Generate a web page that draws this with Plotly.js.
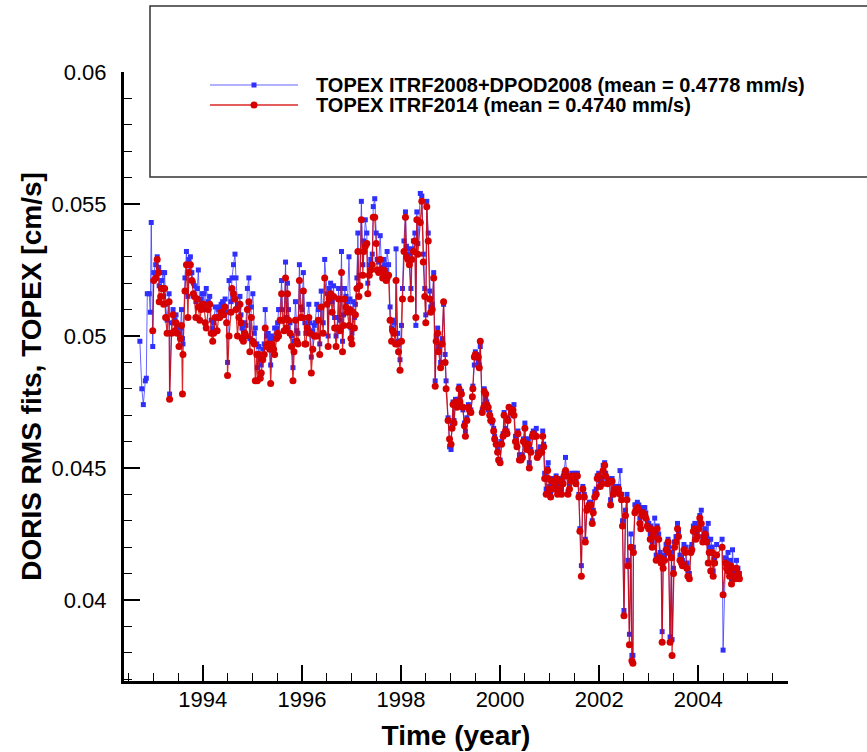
<!DOCTYPE html>
<html>
<head>
<meta charset="utf-8">
<script src="https://cdn.plot.ly/plotly-3.0.1.min.js"></script>
<style>
  html, body { margin: 0; padding: 0; background: #ffffff; }
  #chart { width: 867px; height: 752px; }
</style>
</head>
<body>
<div id="chart"></div>
<script>
// ---------------- DATA ----------------
// Epochs (decimal year) shared by both solutions
const epochYears = [
  1992.99,1993.01,1993.05,1993.08,1993.11,1993.12,1993.15,1993.17,1993.20,1993.21,
  1993.23,1993.25,1993.28,1993.32,1993.33,1993.37,1993.40,1993.44,1993.46,1993.48,
  1993.52,1993.55,1993.57,1993.59,1993.60,1993.64,1993.67,1993.70,1993.72,1993.75,
  1993.78,1993.81,1993.83,1993.86,1993.89,1993.91,1993.94,1993.97,1993.99,1994.02,
  1994.05,1994.07,1994.11,1994.14,1994.17,1994.20,1994.22,1994.25,1994.29,1994.32,
  1994.34,1994.37,1994.40,1994.42,1994.45,1994.48,1994.50,1994.53,1994.57,1994.59,
  1994.62,1994.65,1994.67,1994.70,1994.73,1994.75,1994.77,1994.79,1994.82,1994.85,
  1994.87,1994.90,1994.93,1994.95,1994.98,1995.01,1995.04,1995.06,1995.09,1995.10,
  1995.13,1995.16,1995.18,1995.21,1995.24,1995.26,1995.29,1995.32,1995.35,1995.37,
  1995.40,1995.43,1995.45,1995.49,1995.51,1995.53,1995.56,1995.59,1995.61,1995.64,
  1995.67,1995.69,1995.71,1995.73,1995.76,1995.79,1995.82,1995.84,1995.87,1995.90,
  1995.92,1995.95,1995.98,1996.00,1996.03,1996.06,1996.08,1996.11,1996.14,1996.16,
  1996.19,1996.22,1996.25,1996.27,1996.30,1996.33,1996.36,1996.39,1996.43,1996.46,
  1996.51,1996.53,1996.55,1996.58,1996.61,1996.64,1996.66,1996.69,1996.72,1996.74,
  1996.77,1996.80,1996.82,1996.84,1996.86,1996.89,1996.92,1996.95,1996.97,1996.99,
  1997.01,1997.03,1997.06,1997.08,1997.11,1997.13,1997.15,1997.17,1997.20,1997.23,
  1997.25,1997.28,1997.31,1997.33,1997.36,1997.39,1997.42,1997.44,1997.47,1997.50,
  1997.52,1997.55,1997.58,1997.60,1997.63,1997.65,1997.67,1997.70,1997.72,1997.75,
  1997.78,1997.81,1997.83,1997.86,1997.89,1997.90,1997.93,1997.95,1997.98,1998.01,
  1998.03,1998.06,1998.09,1998.11,1998.14,1998.17,1998.20,1998.22,1998.25,1998.28,
  1998.30,1998.32,1998.34,1998.39,1998.42,1998.45,1998.48,1998.50,1998.52,1998.55,
  1998.58,1998.60,1998.63,1998.66,1998.69,1998.71,1998.74,1998.76,1998.80,1998.83,
  1998.86,1998.89,1998.91,1998.95,1998.98,1999.01,1999.03,1999.05,1999.07,1999.10,
  1999.13,1999.15,1999.17,1999.19,1999.22,1999.25,1999.28,1999.30,1999.33,1999.36,
  1999.38,1999.41,1999.44,1999.45,1999.48,1999.50,1999.53,1999.56,1999.58,1999.60,
  1999.64,1999.67,1999.68,1999.71,1999.73,1999.76,1999.79,1999.81,1999.84,1999.87,
  1999.89,1999.92,1999.95,1999.97,2000.00,2000.03,2000.06,2000.08,2000.11,2000.14,
  2000.16,2000.18,2000.23,2000.26,2000.28,2000.31,2000.34,2000.36,2000.39,2000.42,
  2000.45,2000.47,2000.50,2000.51,2000.54,2000.57,2000.59,2000.62,2000.65,2000.67,
  2000.70,2000.73,2000.75,2000.78,2000.81,2000.84,2000.86,2000.88,2000.90,2000.93,
  2000.96,2000.97,2001.00,2001.02,2001.05,2001.08,2001.10,2001.13,2001.16,2001.18,
  2001.21,2001.24,2001.27,2001.29,2001.32,2001.35,2001.37,2001.40,2001.43,2001.45,
  2001.48,2001.51,2001.53,2001.56,2001.59,2001.61,2001.64,2001.67,2001.70,2001.72,
  2001.75,2001.78,2001.80,2001.83,2001.86,2001.88,2001.91,2001.94,2001.96,2001.99,
  2002.02,2002.06,2002.08,2002.11,2002.13,2002.17,2002.21,2002.23,2002.26,2002.29,
  2002.33,2002.37,2002.39,2002.42,2002.45,2002.47,2002.50,2002.53,2002.56,2002.58,
  2002.61,2002.64,2002.66,2002.68,2002.69,2002.72,2002.74,2002.77,2002.80,2002.82,
  2002.84,2002.86,2002.89,2002.92,2002.94,2002.97,2003.00,2003.03,2003.04,2003.07,
  2003.09,2003.12,2003.15,2003.17,2003.20,2003.23,2003.25,2003.27,2003.29,2003.32,
  2003.35,2003.39,2003.40,2003.43,2003.46,2003.47,2003.50,2003.52,2003.55,2003.58,
  2003.60,2003.63,2003.66,2003.68,2003.71,2003.74,2003.77,2003.79,2003.82,2003.85,
  2003.87,2003.90,2003.93,2003.95,2003.98,2004.01,2004.03,2004.06,2004.09,2004.12,
  2004.14,2004.17,2004.20,2004.22,2004.25,2004.28,2004.30,2004.33,2004.37,2004.48,
  2004.50,2004.55,2004.57,2004.60,2004.63,2004.65,2004.67,2004.69,2004.72,2004.75,
  2004.77,2004.80,2004.83
];

// TOPEX ITRF2014 RMS fits (cm/s)
const itrf2014Rms = [
  0.0502,0.0521,0.0522,0.0529,0.0524,0.0513,0.0515,0.0518,0.0518,0.0512,
  0.0518,0.0507,0.0501,0.0513,0.0476,0.0501,0.0508,0.0502,0.0505,0.0501,
  0.0496,0.0499,0.0504,0.0478,0.0493,0.0517,0.0527,0.0507,0.0524,0.0527,
  0.0521,0.0516,0.0515,0.0507,0.0514,0.0511,0.0506,0.0510,0.0512,0.0512,
  0.0505,0.0503,0.0510,0.0512,0.0501,0.0498,0.0501,0.0507,0.0502,0.0507,
  0.0507,0.0509,0.0509,0.0508,0.0511,0.0505,0.0485,0.0500,0.0509,0.0518,
  0.0516,0.0514,0.0510,0.0500,0.0507,0.0512,0.0505,0.0499,0.0498,0.0501,
  0.0500,0.0510,0.0513,0.0494,0.0507,0.0498,0.0497,0.0483,0.0493,0.0483,
  0.0493,0.0484,0.0486,0.0491,0.0493,0.0503,0.0496,0.0497,0.0495,0.0482,
  0.0497,0.0495,0.0493,0.0499,0.0501,0.0500,0.0506,0.0516,0.0506,0.0502,
  0.0522,0.0503,0.0516,0.0506,0.0501,0.0496,0.0483,0.0494,0.0506,0.0498,
  0.0497,0.0521,0.0507,0.0507,0.0517,0.0497,0.0497,0.0503,0.0507,0.0501,
  0.0486,0.0495,0.0500,0.0500,0.0500,0.0506,0.0493,0.0511,0.0501,0.0522,
  0.0512,0.0496,0.0514,0.0516,0.0509,0.0515,0.0503,0.0496,0.0503,0.0514,
  0.0502,0.0524,0.0494,0.0504,0.0514,0.0511,0.0509,0.0504,0.0510,0.0499,
  0.0497,0.0509,0.0503,0.0508,0.0518,0.0532,0.0515,0.0519,0.0544,0.0523,
  0.0532,0.0534,0.0535,0.0516,0.0523,0.0525,0.0527,0.0545,0.0545,0.0535,
  0.0525,0.0524,0.0529,0.0525,0.0522,0.0525,0.0523,0.0521,0.0522,0.0523,
  0.0506,0.0498,0.0502,0.0501,0.0497,0.0521,0.0497,0.0494,0.0487,0.0498,
  0.0514,0.0532,0.0545,0.0530,0.0529,0.0527,0.0514,0.0529,0.0532,0.0536,
  0.0507,0.0544,0.0531,0.0543,0.0551,0.0528,0.0515,0.0505,0.0549,0.0536,
  0.0514,0.0509,0.0510,0.0522,0.0481,0.0498,0.0501,0.0494,0.0488,0.0497,
  0.0513,0.0490,0.0480,0.0468,0.0461,0.0459,0.0465,0.0474,0.0467,0.0475,
  0.0473,0.0475,0.0480,0.0475,0.0478,0.0473,0.0466,0.0462,0.0468,0.0473,
  0.0472,0.0471,0.0477,0.0480,0.0492,0.0493,0.0492,0.0492,0.0488,0.0498,
  0.0471,0.0473,0.0479,0.0478,0.0474,0.0473,0.0470,0.0468,0.0468,0.0464,
  0.0461,0.0459,0.0456,0.0453,0.0452,0.0459,0.0462,0.0470,0.0464,0.0463,
  0.0468,0.0473,0.0471,0.0472,0.0470,0.0460,0.0458,0.0463,0.0453,0.0453,
  0.0454,0.0460,0.0465,0.0459,0.0457,0.0459,0.0450,0.0456,0.0462,0.0463,
  0.0462,0.0462,0.0454,0.0455,0.0456,0.0456,0.0462,0.0458,0.0446,0.0440,
  0.0449,0.0446,0.0442,0.0439,0.0445,0.0442,0.0444,0.0446,0.0440,0.0442,
  0.0445,0.0440,0.0444,0.0447,0.0449,0.0447,0.0440,0.0442,0.0445,0.0447,
  0.0446,0.0447,0.0444,0.0447,0.0439,0.0426,0.0409,0.0442,0.0439,0.0422,
  0.0434,0.0435,0.0436,0.0436,0.0429,0.0433,0.0439,0.0440,0.0446,0.0447,
  0.0443,0.0444,0.0449,0.0451,0.0447,0.0444,0.0445,0.0436,0.0445,0.0440,
  0.0442,0.0441,0.0442,0.0440,0.0438,0.0428,0.0394,0.0432,0.0438,0.0413,
  0.0383,0.0420,0.0377,0.0376,0.0418,0.0433,0.0434,0.0435,0.0434,0.0429,
  0.0427,0.0432,0.0433,0.0432,0.0431,0.0428,0.0427,0.0423,0.0427,0.0420,
  0.0424,0.0426,0.0415,0.0427,0.0423,0.0416,0.0414,0.0384,0.0412,0.0415,
  0.0419,0.0422,0.0418,0.0384,0.0416,0.0379,0.0410,0.0420,0.0422,0.0427,
  0.0424,0.0415,0.0414,0.0413,0.0419,0.0418,0.0412,0.0409,0.0408,0.0418,
  0.0419,0.0426,0.0427,0.0423,0.0424,0.0427,0.0431,0.0429,0.0422,0.0423,
  0.0425,0.0422,0.0414,0.0418,0.0411,0.0418,0.0409,0.0414,0.0417,0.0420,
  0.0402,0.0414,0.0412,0.0411,0.0409,0.0413,0.0406,0.0412,0.0409,0.0408,
  0.0412,0.0410,0.0408
];

// TOPEX ITRF2008+DPOD2008 RMS fits (cm/s), same epochs
const itrf2008Rms = [
  0.0496,0.0524,0.0527,0.0530,0.0526,0.0519,0.0518,0.0521,0.0524,0.0515,
  0.0524,0.0512,0.0506,0.0516,0.0478,0.0505,0.0510,0.0506,0.0508,0.0504,
  0.0501,0.0503,0.0510,0.0499,0.0497,0.0522,0.0532,0.0515,0.0529,0.0530,
  0.0524,0.0520,0.0519,0.0513,0.0518,0.0525,0.0511,0.0514,0.0516,0.0516,
  0.0510,0.0518,0.0513,0.0515,0.0506,0.0503,0.0505,0.0511,0.0507,0.0510,
  0.0511,0.0512,0.0513,0.0511,0.0514,0.0509,0.0490,0.0521,0.0513,0.0522,
  0.0527,0.0531,0.0522,0.0512,0.0511,0.0515,0.0508,0.0503,0.0502,0.0505,
  0.0504,0.0518,0.0522,0.0499,0.0511,0.0516,0.0501,0.0503,0.0497,0.0488,
  0.0496,0.0491,0.0489,0.0495,0.0497,0.0510,0.0500,0.0501,0.0499,0.0489,
  0.0500,0.0499,0.0503,0.0503,0.0505,0.0510,0.0510,0.0521,0.0510,0.0506,
  0.0528,0.0507,0.0520,0.0510,0.0505,0.0500,0.0488,0.0498,0.0513,0.0502,
  0.0501,0.0527,0.0511,0.0510,0.0524,0.0505,0.0501,0.0507,0.0512,0.0505,
  0.0492,0.0502,0.0504,0.0505,0.0512,0.0510,0.0497,0.0517,0.0505,0.0529,
  0.0516,0.0500,0.0518,0.0520,0.0513,0.0519,0.0507,0.0500,0.0507,0.0518,
  0.0506,0.0532,0.0498,0.0508,0.0518,0.0515,0.0513,0.0530,0.0514,0.0503,
  0.0501,0.0513,0.0507,0.0512,0.0522,0.0539,0.0519,0.0523,0.0551,0.0527,
  0.0536,0.0544,0.0539,0.0520,0.0527,0.0529,0.0531,0.0549,0.0552,0.0539,
  0.0529,0.0528,0.0538,0.0529,0.0526,0.0529,0.0527,0.0525,0.0532,0.0527,
  0.0511,0.0503,0.0506,0.0505,0.0501,0.0533,0.0501,0.0498,0.0491,0.0504,
  0.0518,0.0536,0.0547,0.0534,0.0533,0.0531,0.0518,0.0533,0.0536,0.0539,
  0.0504,0.0547,0.0535,0.0554,0.0553,0.0531,0.0518,0.0508,0.0551,0.0539,
  0.0517,0.0511,0.0512,0.0524,0.0483,0.0500,0.0503,0.0496,0.0490,0.0499,
  0.0512,0.0493,0.0483,0.0469,0.0458,0.0457,0.0466,0.0475,0.0468,0.0476,
  0.0474,0.0476,0.0481,0.0473,0.0479,0.0472,0.0467,0.0464,0.0469,0.0474,
  0.0473,0.0472,0.0477,0.0481,0.0489,0.0494,0.0493,0.0490,0.0489,0.0496,
  0.0472,0.0474,0.0480,0.0476,0.0475,0.0472,0.0471,0.0469,0.0467,0.0465,
  0.0462,0.0460,0.0457,0.0453,0.0453,0.0460,0.0463,0.0471,0.0465,0.0464,
  0.0469,0.0473,0.0472,0.0473,0.0474,0.0462,0.0459,0.0464,0.0455,0.0454,
  0.0455,0.0461,0.0467,0.0461,0.0458,0.0461,0.0452,0.0457,0.0463,0.0464,
  0.0463,0.0465,0.0456,0.0456,0.0458,0.0457,0.0464,0.0459,0.0448,0.0442,
  0.0450,0.0452,0.0443,0.0441,0.0446,0.0443,0.0446,0.0447,0.0441,0.0443,
  0.0446,0.0442,0.0445,0.0448,0.0454,0.0448,0.0441,0.0443,0.0446,0.0448,
  0.0447,0.0448,0.0445,0.0448,0.0440,0.0427,0.0413,0.0443,0.0440,0.0423,
  0.0435,0.0436,0.0437,0.0437,0.0430,0.0434,0.0441,0.0442,0.0447,0.0448,
  0.0445,0.0446,0.0451,0.0452,0.0448,0.0445,0.0446,0.0438,0.0446,0.0442,
  0.0443,0.0442,0.0443,0.0449,0.0440,0.0430,0.0396,0.0434,0.0440,0.0415,
  0.0387,0.0425,0.0379,0.0379,0.0420,0.0436,0.0436,0.0437,0.0436,0.0431,
  0.0429,0.0434,0.0435,0.0435,0.0433,0.0430,0.0429,0.0425,0.0428,0.0422,
  0.0426,0.0431,0.0417,0.0428,0.0425,0.0418,0.0416,0.0388,0.0414,0.0417,
  0.0421,0.0423,0.0420,0.0386,0.0418,0.0385,0.0412,0.0422,0.0424,0.0429,
  0.0426,0.0417,0.0416,0.0415,0.0421,0.0420,0.0414,0.0411,0.0410,0.0420,
  0.0421,0.0428,0.0429,0.0425,0.0426,0.0429,0.0432,0.0434,0.0424,0.0425,
  0.0427,0.0424,0.0429,0.0420,0.0423,0.0420,0.0411,0.0416,0.0421,0.0423,
  0.0381,0.0416,0.0414,0.0418,0.0411,0.0415,0.0408,0.0419,0.0411,0.0410,
  0.0415,0.0412,0.0410
];

// ITRF2008+DPOD2008 epochs that precede the first ITRF2014 epoch
const itrf2008LeadYears = [1992.73,1992.77,1992.80,1992.84,1992.86,1992.88,1992.92,1992.94,1992.96];
const itrf2008LeadRms   = [0.0498,0.0480,0.0474,0.0483,0.0484,0.0516,0.0516,0.0509,0.0543];

const seriesNames = [
  'TOPEX ITRF2008+DPOD2008 (mean = 0.4778 mm/s)',
  'TOPEX ITRF2014 (mean = 0.4740 mm/s)'
];
const xTickValues = [1994, 1996, 1998, 2000, 2002, 2004];
const xTickLabels = ['1994', '1996', '1998', '2000', '2002', '2004'];
const yTickValues = [0.04, 0.045, 0.05, 0.055, 0.06];
const yTickLabels = ['0.04', '0.045', '0.05', '0.055', '0.06'];

// ---------------- STYLE / LAYOUT ----------------
const W = 867, H = 752;
const PL = 124, PR = 788, PT = 72, PB = 681;   // plot-area pixel box
const px2x = p => (p - PL) / (PR - PL);
const py2y = p => (PB - p) / (PB - PT);

const BLUE_LINE = 'rgba(50,50,255,0.75)';
const BLUE_MARK = '#2f2fff';
const RED_LINE = 'rgba(210,0,0,0.85)';
const RED_MARK = '#d60000';
const FONT = 'Liberation Sans, Arial, Helvetica, sans-serif';

const traces = [
  {
    type: 'scatter', mode: 'lines+markers', name: seriesNames[0],
    x: itrf2008LeadYears.concat(epochYears),
    y: itrf2008LeadRms.concat(itrf2008Rms),
    line: { color: BLUE_LINE, width: 1 },
    marker: { symbol: 'square', size: 5, color: BLUE_MARK, line: { width: 0 } },
    showlegend: false
  },
  {
    type: 'scatter', mode: 'lines+markers', name: seriesNames[1],
    x: epochYears, y: itrf2014Rms,
    line: { color: RED_LINE, width: 1.2 },
    marker: { symbol: 'circle', size: 7, color: RED_MARK, line: { width: 0 } },
    showlegend: false
  }
];

const row1 = py2y(85), row2 = py2y(105);
const sampleX0 = px2x(210), sampleX1 = px2x(298), sampleMid = px2x(254);

const shapes = [
  { type: 'rect', xref: 'paper', yref: 'paper', layer: 'above',
    x0: px2x(150), x1: px2x(900), y0: py2y(177), y1: py2y(6),
    line: { color: '#333333', width: 1.5 }, fillcolor: 'white' },
  { type: 'line', xref: 'paper', yref: 'paper', layer: 'above',
    x0: sampleX0, x1: sampleX1, y0: row1, y1: row1, line: { color: BLUE_LINE, width: 1.2 } },
  { type: 'rect', xref: 'paper', yref: 'paper', layer: 'above',
    xsizemode: 'pixel', ysizemode: 'pixel', xanchor: sampleMid, yanchor: row1,
    x0: -2.5, x1: 2.5, y0: -2.5, y1: 2.5, fillcolor: BLUE_MARK, line: { width: 0 } },
  { type: 'line', xref: 'paper', yref: 'paper', layer: 'above',
    x0: sampleX0, x1: sampleX1, y0: row2, y1: row2, line: { color: RED_LINE, width: 1.4 } },
  { type: 'circle', xref: 'paper', yref: 'paper', layer: 'above',
    xsizemode: 'pixel', ysizemode: 'pixel', xanchor: sampleMid, yanchor: row2,
    x0: -3.5, x1: 3.5, y0: -3.5, y1: 3.5, fillcolor: RED_MARK, line: { width: 0 } }
];

const annotations = [
  { xref: 'paper', yref: 'paper', x: px2x(314), y: row1, xanchor: 'left', yanchor: 'middle',
    showarrow: false, text: seriesNames[0], font: { family: FONT, size: 20, weight: 'bold', color: 'black' } },
  { xref: 'paper', yref: 'paper', x: px2x(314), y: row2, xanchor: 'left', yanchor: 'middle',
    showarrow: false, text: seriesNames[1], font: { family: FONT, size: 20, weight: 'bold', color: 'black' } }
];

const layout = {
  width: W, height: H,
  margin: { l: PL, r: W - PR, t: PT, b: H - PB, pad: 0 },
  paper_bgcolor: 'white', plot_bgcolor: 'white',
  showlegend: false,
  font: { family: FONT, color: 'black' },
  xaxis: {
    range: [1992.41, 2005.81],
    tickmode: 'array', tickvals: xTickValues, ticktext: xTickLabels,
    ticks: 'inside', ticklen: 16, tickwidth: 2, tickcolor: 'black',
    minor: { ticks: 'inside', ticklen: 8, tickwidth: 1, tickcolor: 'black', dtick: 0.5, tick0: 1994, showgrid: false },
    showline: true, linecolor: 'black', linewidth: 3,
    showgrid: false, zeroline: false,
    tickfont: { family: FONT, size: 22, color: 'black' },
    ticklabelstandoff: -3,
    title: { text: 'Time (year)', font: { family: FONT, size: 28, weight: 'bold', color: 'black' }, standoff: 14 }
  },
  yaxis: {
    range: [0.03693, 0.06],
    tickmode: 'array', tickvals: yTickValues, ticktext: yTickLabels,
    ticks: 'inside', ticklen: 16, tickwidth: 2, tickcolor: 'black',
    minor: { ticks: 'inside', ticklen: 8, tickwidth: 1, tickcolor: 'black', dtick: 0.001, tick0: 0.04, showgrid: false },
    showline: true, linecolor: 'black', linewidth: 3,
    showgrid: false, zeroline: false,
    tickfont: { family: FONT, size: 22, color: 'black' },
    ticklabelstandoff: 10,
    title: { text: 'DORIS RMS fits, TOPEX [cm/s]', font: { family: FONT, size: 28, weight: 'bold', color: 'black' }, standoff: 2 }
  },
  shapes: shapes,
  annotations: annotations
};

Plotly.newPlot('chart', traces, layout, { displayModeBar: false, staticPlot: true });
</script>
</body>
</html>
